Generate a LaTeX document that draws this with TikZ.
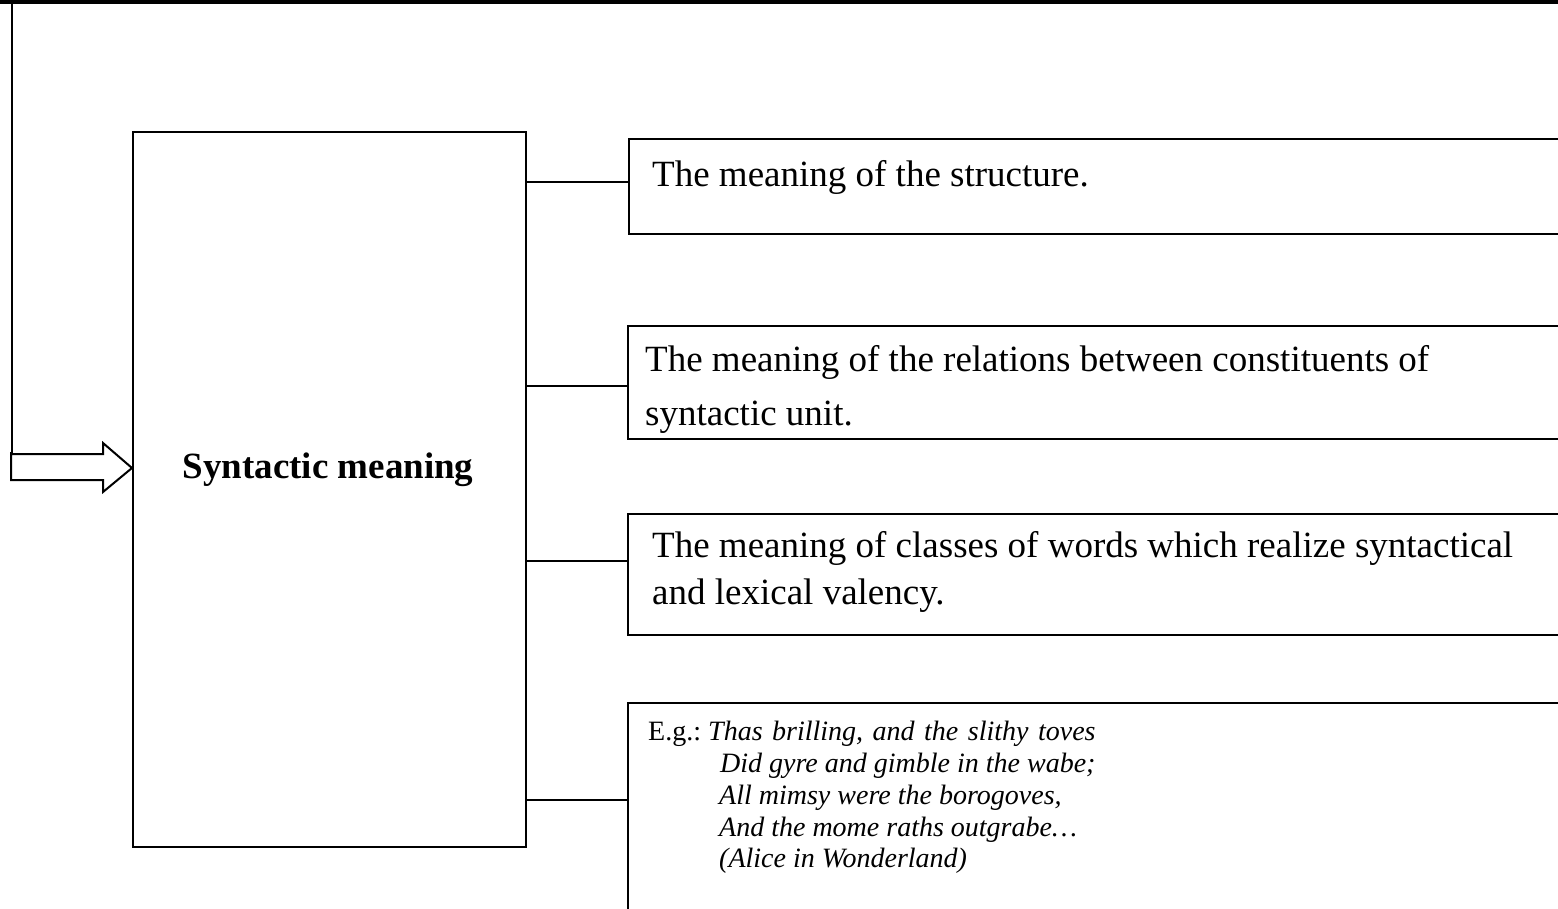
\documentclass[tikz,border=0pt]{standalone}
\usepackage{fontspec}
\setmainfont{Liberation Serif}
\begin{document}
\begin{tikzpicture}[x=1pt,y=-1pt,line join=miter]
\tikzset{
  frame/.style={draw,line width=2pt,inner sep=0pt,anchor=north west},
  txt/.style={anchor=base west,inner sep=0pt,font=\fontsize{37}{44}\selectfont},
  egtxt/.style={anchor=base west,inner sep=0pt,font=\fontsize{28}{32}\selectfont},
  poem/.style={anchor=base west,inner sep=0pt,font=\fontsize{28}{32}\selectfont\itshape},
  link/.style={line width=2pt},
}
\useasboundingbox (0,0) rectangle (1558,909);
\clip (0,0) rectangle (1558,909);
% frames
\node[frame,minimum width=393pt,minimum height=715pt] (sm) at (132,131) {};
\node[frame,minimum width=950pt,minimum height=95pt] (b1) at (628,138) {};
\node[frame,minimum width=950pt,minimum height=113pt] (b2) at (627,325) {};
\node[frame,minimum width=950pt,minimum height=121pt] (b3) at (627,513) {};
\node[frame,minimum width=950pt,minimum height=250pt] (b4) at (627,702) {};
% texts
\node[inner sep=0pt,anchor=base,font=\fontsize{37}{44}\selectfont\bfseries] (smt) at (328,478) {Syntactic meaning};
\node[txt] (t1) at (652,187) {The meaning of the structure.};
\node[txt] (t2a) at (645,371) {The meaning of the relations between constituents of};
\node[txt] (t2b) at (645,425) {syntactic unit.};
\node[txt] (t3a) at (652,557) {The meaning of classes of words which realize syntactical};
\node[txt] (t3b) at (652,604) {and lexical valency.};
\node[egtxt] (eg) at (648,740) {E.g.:};
\node[poem] (p1) at (708,740) {\spaceskip=9.5pt Thas brilling, and the slithy toves};
\node[poem] (p2) at (720,772) {Did gyre and gimble in the wabe;};
\node[poem] (p3) at (719,804) {All mimsy were the borogoves,};
\node[poem] (p4) at (719,836) {And the mome raths outgrabe…};
\node[poem] (p5) at (719,867) {(Alice in Wonderland)};
% connectors
\draw[link] (sm.east |- 0,182) -- (b1.west |- 0,182);
\draw[link] (sm.east |- 0,386) -- (b2.west |- 0,386);
\draw[link] (sm.east |- 0,561) -- (b3.west |- 0,561);
\draw[link] (sm.east |- 0,800) -- (b4.west |- 0,800);
% top rule and feed arrow
\coordinate (corner) at (12,2);
\draw[line width=4pt] (0,2) -- (1558,2);
\draw[line width=2.5pt] (corner) -- (12,454);
\draw[line width=2pt] (12,454) -- (103,454) -- (103,443) -- (sm.west |- 0,468) -- (103,492) -- (103,480) -- (11,480) -- (11,452);
\end{tikzpicture}
\end{document}
